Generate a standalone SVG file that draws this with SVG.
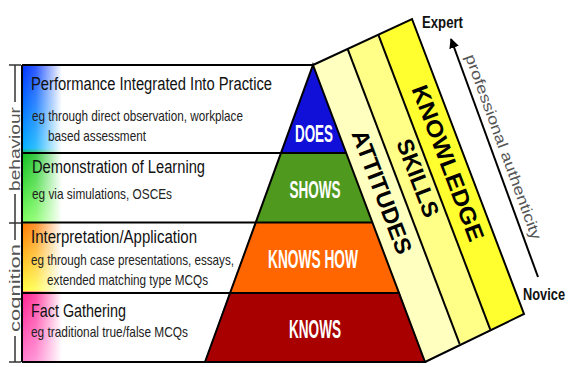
<svg xmlns="http://www.w3.org/2000/svg" width="585" height="367" viewBox="0 0 585 367">
<style>
.ln{stroke:#000;stroke-width:2;fill:none}
.t{font-family:"Liberation Sans Narrow","Liberation Sans",Arial,sans-serif;fill:#111}
.ti{font-size:18px}
.sub{font-size:14.5px;fill:#222}
.pl{font-family:"Liberation Sans Narrow","Liberation Sans",Arial,sans-serif;font-weight:bold;fill:#fff;text-anchor:middle}
.bl{font-family:"Liberation Sans Narrow","Liberation Sans",Arial,sans-serif;font-weight:bold;fill:#000;font-size:23px;text-anchor:middle}
.side{font-family:"Liberation Sans","Arial",sans-serif;font-size:15px;fill:#555;text-anchor:middle}
.axis{stroke:#333;stroke-width:1.5;fill:none}
</style>
<defs>
<linearGradient id="strip" x1="0" y1="65" x2="0" y2="362" gradientUnits="userSpaceOnUse">
<stop offset="0" stop-color="#0030ff"/>
<stop offset="0.28" stop-color="#00b0ff"/>
<stop offset="0.30" stop-color="#10c020"/>
<stop offset="0.53" stop-color="#80ff60"/>
<stop offset="0.535" stop-color="#ff7a00"/>
<stop offset="0.76" stop-color="#ffff40"/>
<stop offset="0.765" stop-color="#ff2090"/>
<stop offset="1" stop-color="#ff80d0"/>
</linearGradient>
<linearGradient id="fade" x1="22" y1="0" x2="62" y2="0" gradientUnits="userSpaceOnUse">
<stop offset="0" stop-color="#fff" stop-opacity="0"/>
<stop offset="0.35" stop-color="#fff" stop-opacity="0.2"/>
<stop offset="1" stop-color="#fff" stop-opacity="1"/>
</linearGradient>
<marker id="ah" viewBox="0 0 10 10" refX="9" refY="5" markerWidth="5" markerHeight="5" orient="auto">
<path d="M0,0 L10,5 L0,10 z" fill="#000"/>
</marker>
</defs>
<rect width="585" height="367" fill="#fff"/>

<!-- side bracket -->
<g id="side-scale">
<line class="axis" x1="15" y1="65" x2="15" y2="102"/>
<line class="axis" x1="15" y1="194" x2="15" y2="240"/>
<line class="axis" x1="15" y1="336" x2="15" y2="362"/>
<line class="axis" x1="9" y1="65" x2="21" y2="65"/>
<line class="axis" x1="9" y1="223" x2="21" y2="223"/>
<line class="axis" x1="9" y1="362" x2="21" y2="362"/>
<text class="side" transform="translate(20,149) rotate(-90)" textLength="84" lengthAdjust="spacingAndGlyphs">behaviour</text>
<text class="side" transform="translate(20,288) rotate(-90)" textLength="88" lengthAdjust="spacingAndGlyphs">cognition</text>
</g>

<!-- background bands -->
<g id="bands">
<polygon points="313,65 347.6,48.9 459.6,343.9 425,362" fill="#ffffc0"/>
<polygon points="347.6,48.9 378.3,34.6 490.3,329.6 459.6,343.9" fill="#ffff88"/>
<polygon points="378.3,34.6 412,19 524,314 490.3,329.6" fill="#ffff30"/>
<polyline class="ln" points="313,65 412,19 524,314 425,362"/>
<line class="ln" x1="347.6" y1="48.9" x2="459.6" y2="343.9" stroke-width="1.5"/>
<line class="ln" x1="378.3" y1="34.6" x2="490.3" y2="329.6" stroke-width="1.5"/>
<text class="bl" transform="translate(382,192) rotate(69.2)" y="8" textLength="131" lengthAdjust="spacingAndGlyphs">ATTITUDES</text>
<text class="bl" transform="translate(418,178) rotate(69.2)" y="8" textLength="82" lengthAdjust="spacingAndGlyphs">SKILLS</text>
<text class="bl" transform="translate(448,163) rotate(69.2)" y="8" textLength="165" lengthAdjust="spacingAndGlyphs">KNOWLEDGE</text>
</g>

<!-- left boxes -->
<g id="left-strip">
<rect x="22" y="65" width="40" height="297" fill="url(#strip)"/>
<rect x="22" y="65" width="41" height="297" fill="url(#fade)"/>
<line class="ln" x1="22" y1="65" x2="22" y2="362"/>
</g>

<!-- pyramid levels -->
<g id="does">
<polygon points="313,65 346.2,153 281,153" fill="#1010d8"/>
<text class="pl" x="314" y="142" font-size="23" textLength="38" lengthAdjust="spacingAndGlyphs">DOES</text>
</g>
<g id="shows">
<polygon points="281,153 346.2,153 372.6,222 255.5,222" fill="#4f9a1e"/>
<text class="pl" x="315" y="198" font-size="24" textLength="51" lengthAdjust="spacingAndGlyphs">SHOWS</text>
</g>
<g id="knows-how">
<polygon points="255.5,222 372.6,222 399.8,293 229.3,293" fill="#ff6600"/>
<text class="pl" x="313" y="268" font-size="26" textLength="90" lengthAdjust="spacingAndGlyphs">KNOWS HOW</text>
</g>
<g id="knows">
<polygon points="229.3,293 399.8,293 425,362 205,362" fill="#a80000"/>
<text class="pl" x="315" y="338" font-size="26" textLength="52" lengthAdjust="spacingAndGlyphs">KNOWS</text>
</g>
<g id="pyramid-outline">
<polygon class="ln" points="313,65 425,362 205,362"/>
</g>

<!-- level descriptions -->
<g id="level-performance">
<line class="ln" x1="22" y1="65" x2="313" y2="65"/>
<text class="t ti" x="31" y="90" textLength="241" lengthAdjust="spacingAndGlyphs">Performance Integrated Into Practice</text>
<text class="t sub" x="32" y="121" textLength="211" lengthAdjust="spacingAndGlyphs">eg through direct observation, workplace</text>
<text class="t sub" x="48" y="141" textLength="98" lengthAdjust="spacingAndGlyphs">based assessment</text>
</g>
<g id="level-demonstration">
<line class="ln" x1="22" y1="153" x2="346.2" y2="153"/>
<text class="t ti" x="32" y="173" textLength="173" lengthAdjust="spacingAndGlyphs">Demonstration of Learning</text>
<text class="t sub" x="32" y="199" textLength="140" lengthAdjust="spacingAndGlyphs">eg via simulations, OSCEs</text>
</g>
<g id="level-interpretation">
<line class="ln" x1="22" y1="222.5" x2="372.6" y2="222.5"/>
<text class="t ti" x="31" y="243" textLength="166" lengthAdjust="spacingAndGlyphs">Interpretation/Application</text>
<text class="t sub" x="31" y="265" textLength="203" lengthAdjust="spacingAndGlyphs">eg through case presentations, essays,</text>
<text class="t sub" x="47" y="285" textLength="161" lengthAdjust="spacingAndGlyphs">extended matching type MCQs</text>
</g>
<g id="level-fact">
<line class="ln" x1="22" y1="293" x2="399.8" y2="293"/>
<text class="t ti" x="31" y="317" textLength="95" lengthAdjust="spacingAndGlyphs">Fact Gathering</text>
<text class="t sub" x="31" y="337" textLength="157" lengthAdjust="spacingAndGlyphs">eg traditional true/false MCQs</text>
<line class="ln" x1="22" y1="362" x2="425" y2="362"/>
</g>

<!-- authenticity axis -->
<g id="expert">
<text class="t" x="422" y="28" font-size="17" font-weight="bold" fill="#000" textLength="41" lengthAdjust="spacingAndGlyphs">Expert</text>
</g>
<g id="novice">
<text class="t" x="523" y="300" font-size="17" font-weight="bold" fill="#000" textLength="42" lengthAdjust="spacingAndGlyphs">Novice</text>
</g>
<g id="connectors">
<line x1="538" y1="277" x2="451" y2="39" stroke="#000" stroke-width="2" marker-end="url(#ah)"/>
<text class="side" transform="translate(492,151) rotate(69.9)" y="-7" font-size="15" fill="#444" textLength="196" lengthAdjust="spacingAndGlyphs">professional authenticity</text>
</g>
</svg>
